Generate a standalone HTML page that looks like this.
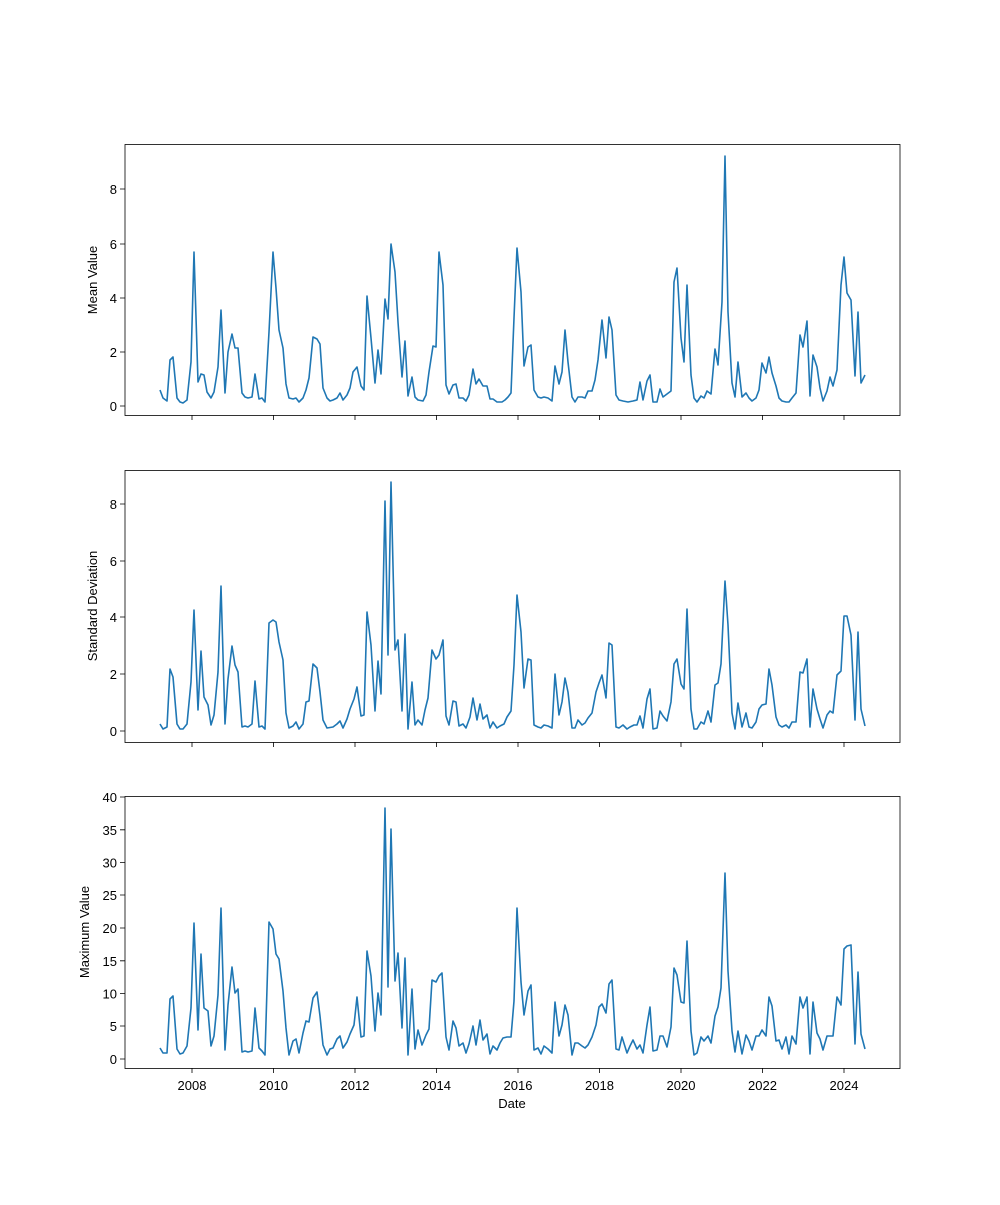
<!DOCTYPE html>
<html><head><meta charset="utf-8"><style>
html,body{margin:0;padding:0;background:#fff;}
text{font-family:"Liberation Sans","DejaVu Sans",sans-serif;font-size:13px;fill:#000;}
</style></head><body>
<svg width="1000" height="1200" xmlns="http://www.w3.org/2000/svg">
<rect width="1000" height="1200" fill="#fff"/>
<g fill="none" stroke="#1f77b4" stroke-width="1.6" stroke-linejoin="round">
<polyline points="160,390 163,398 167,401 170,360 173,357 177,398 180,402 183,403 187,400 191,362 194,252 198,382 201,374 204,375 207,392 211,398 214,392 218,367 221,310 225,393 228,352 232,334 235,348 238,348 242,393 245,397 248,398 252,397 255,374 259,399 262,398 265,402 269,332 273,252 276,288 279,330 283,348 286,384 289,398 293,399 296,398 299,402 303,398 306,390 309,378 313,337 317,339 320,344 323,388 327,398 330,401 333,400 337,398 340,393 343,400 347,395 350,388 353,372 357,367 361,386 364,390 367,296 371,338 375,383 378,350 381,374 385,299 388,319 391,244 395,272 398,322 402,377 405,341 408,396 412,377 415,397 418,400 423,401 426,395 429,372 433,346 436,347 439,252 443,285 446,385 449,394 453,385 456,384 459,398 463,398 466,401 469,395 473,369 476,384 479,379 483,386 487,386 490,399 493,399 497,402 502,402 505,400 508,397 511,393 514,318 517,248 521,292 524,366 528,347 531,345 534,390 538,397 541,398 544,397 548,398 552,401 555,366 559,384 562,372 565,330 568,362 572,397 575,402 578,397 582,397 585,398 588,391 592,391 595,380 598,360 602,320 606,358 609,317 612,330 616,395 619,400 623,401 628,402 633,401 637,400 640,382 643,400 647,381 650,375 653,402 657,402 660,389 663,397 667,394 671,391 674,282 677,268 681,338 684,362 687,285 691,375 694,398 697,402 701,396 704,398 707,391 711,394 715,349 718,365 722,302 725,156 728,312 732,383 735,397 738,362 742,397 746,393 749,398 752,401 756,398 759,390 762,363 766,373 769,357 772,373 776,386 779,398 782,401 786,402 789,402 792,398 796,393 800,335 803,347 807,321 810,396 813,355 817,367 820,388 823,401 827,391 830,377 833,386 837,370 841,285 844,257 847,293 851,300 855,376 858,312 861,383 865,375"/>
<polyline points="160,724 163,729 167,727 170,669 173,677 177,724 180,729 183,729 187,724 191,682 194,610 198,710 201,651 204,697 208,705 211,725 214,715 218,672 221,586 225,724 228,679 232,646 235,665 238,672 242,727 245,726 248,727 252,724 255,681 259,727 262,726 265,729 269,623 273,620 276,622 279,642 283,660 286,713 289,728 293,726 296,722 299,729 303,724 306,702 309,701 313,664 317,668 320,692 323,720 327,728 333,727 337,724 340,721 343,728 347,719 350,709 354,699 357,687 361,716 364,715 367,612 371,645 375,711 378,661 381,694 385,501 388,655 391,482 395,650 398,640 402,711 405,634 408,729 412,682 415,725 418,720 422,725 425,710 428,698 432,650 436,659 439,655 443,640 446,716 449,725 453,701 456,702 459,726 463,724 466,728 470,717 473,698 477,720 480,704 483,719 487,715 490,728 493,722 497,728 500,726 504,724 507,717 511,711 514,665 517,595 521,632 524,688 528,659 531,660 534,725 538,727 541,728 544,725 548,726 552,728 555,674 559,715 562,702 565,678 568,692 572,728 575,728 578,720 582,725 585,723 588,718 592,713 596,692 599,683 602,675 606,698 609,643 612,645 616,727 619,728 623,725 627,729 630,727 634,725 637,725 640,716 643,728 647,699 650,689 653,729 657,728 660,711 663,716 667,721 671,702 674,664 677,659 681,684 684,689 687,609 691,709 694,729 697,729 701,722 704,724 708,711 711,722 715,685 718,683 721,664 725,581 728,625 732,713 735,729 738,703 742,727 746,713 749,727 752,728 756,722 759,709 762,705 766,704 769,669 772,685 776,717 779,725 782,727 786,725 789,728 792,722 796,722 800,672 803,673 807,659 810,727 813,689 817,709 820,719 823,728 827,715 830,711 833,713 837,675 841,671 844,616 847,616 851,635 855,720 858,632 861,709 865,726"/>
<polyline points="160,1048 163,1053 167,1053 170,999 173,996 177,1049 180,1054 183,1053 187,1046 191,1008 194,923 198,1030 201,954 204,1008 208,1011 211,1046 214,1036 218,995 221,908 225,1050 228,1005 232,967 235,993 238,989 242,1052 245,1051 248,1052 252,1051 255,1008 259,1048 262,1051 265,1055 269,922 273,929 276,954 279,959 283,991 286,1028 289,1055 293,1041 296,1039 299,1053 303,1033 306,1021 309,1022 313,998 317,992 320,1016 323,1045 327,1055 330,1049 333,1048 337,1039 340,1036 343,1048 347,1042 350,1034 354,1025 357,997 361,1037 364,1036 367,951 371,976 375,1031 378,993 381,1015 385,808 388,987 391,829 395,981 398,953 402,1028 405,958 408,1055 412,989 415,1049 418,1030 422,1045 426,1035 429,1029 432,980 436,982 439,976 442,973 446,1037 449,1050 453,1021 456,1028 459,1046 463,1043 466,1053 469,1044 473,1026 476,1045 480,1020 483,1040 487,1034 490,1054 493,1046 497,1050 500,1043 503,1038 507,1037 511,1037 514,1001 517,908 521,982 524,1015 528,991 531,985 534,1050 538,1048 541,1054 544,1046 548,1049 552,1053 555,1002 559,1036 562,1025 565,1005 568,1015 572,1055 575,1043 578,1043 582,1046 585,1048 588,1045 592,1037 596,1025 599,1007 602,1004 606,1013 609,984 612,980 616,1049 619,1050 622,1037 627,1053 630,1046 633,1040 637,1049 640,1045 643,1053 647,1025 650,1007 653,1051 657,1050 660,1036 663,1036 667,1047 671,1027 674,968 677,975 681,1002 684,1003 687,941 691,1031 694,1055 697,1053 701,1037 704,1041 708,1036 711,1043 715,1016 718,1007 721,988 725,873 728,971 732,1031 735,1052 738,1031 742,1054 746,1035 749,1041 752,1050 756,1036 759,1036 762,1030 766,1036 769,997 772,1006 776,1041 779,1040 782,1049 786,1037 789,1054 792,1036 796,1044 800,997 803,1008 807,997 810,1054 813,1002 817,1033 820,1039 823,1050 827,1036 830,1036 833,1036 837,997 841,1005 844,949 847,946 851,945 855,1044 858,972 861,1034 865,1049"/>
</g>
<g fill="none" stroke="#000" stroke-width="0.8">
<rect x="125" y="144.5" width="775" height="271"/>
<rect x="125" y="470.5" width="775" height="272"/>
<rect x="125" y="796.5" width="775" height="272"/>
<path d="M192,415v5M273.5,415v5M355,415v5M436.5,415v5M518,415v5M599.5,415v5M681,415v5M762.5,415v5M844,415v5
M192,742v5M273.5,742v5M355,742v5M436.5,742v5M518,742v5M599.5,742v5M681,742v5M762.5,742v5M844,742v5
M192,1068v5M273.5,1068v5M355,1068v5M436.5,1068v5M518,1068v5M599.5,1068v5M681,1068v5M762.5,1068v5M844,1068v5
M125,406h-5M125,352h-5M125,298h-5M125,244h-5M125,189h-5
M125,731h-5M125,674h-5M125,617h-5M125,561h-5M125,504h-5
M125,1059h-5M125,1026h-5M125,993.5h-5M125,960.8h-5M125,928h-5M125,895h-5M125,862.5h-5M125,829.8h-5M125,797h-5"/>
</g>
<g text-anchor="end">
<text x="117" y="411">0</text><text x="117" y="357">2</text><text x="117" y="303">4</text><text x="117" y="249">6</text><text x="117" y="194">8</text>
<text x="117" y="736">0</text><text x="117" y="679">2</text><text x="117" y="622">4</text><text x="117" y="566">6</text><text x="117" y="509">8</text>
<text x="117" y="1064">0</text><text x="117" y="1031">5</text><text x="117" y="998.5">10</text><text x="117" y="966">15</text><text x="117" y="933">20</text><text x="117" y="900">25</text><text x="117" y="867.5">30</text><text x="117" y="835">35</text><text x="117" y="802">40</text>
</g>
<g text-anchor="middle">
<text x="192" y="1090">2008</text><text x="273.5" y="1090">2010</text><text x="355" y="1090">2012</text><text x="436.5" y="1090">2014</text><text x="518" y="1090">2016</text><text x="599.5" y="1090">2018</text><text x="681" y="1090">2020</text><text x="762.5" y="1090">2022</text><text x="844" y="1090">2024</text>
<text x="512" y="1108">Date</text>
<text transform="translate(97,280) rotate(-90)">Mean Value</text>
<text transform="translate(97,606) rotate(-90)">Standard Deviation</text>
<text transform="translate(89,932) rotate(-90)">Maximum Value</text>
</g>
</svg>
</body></html>
